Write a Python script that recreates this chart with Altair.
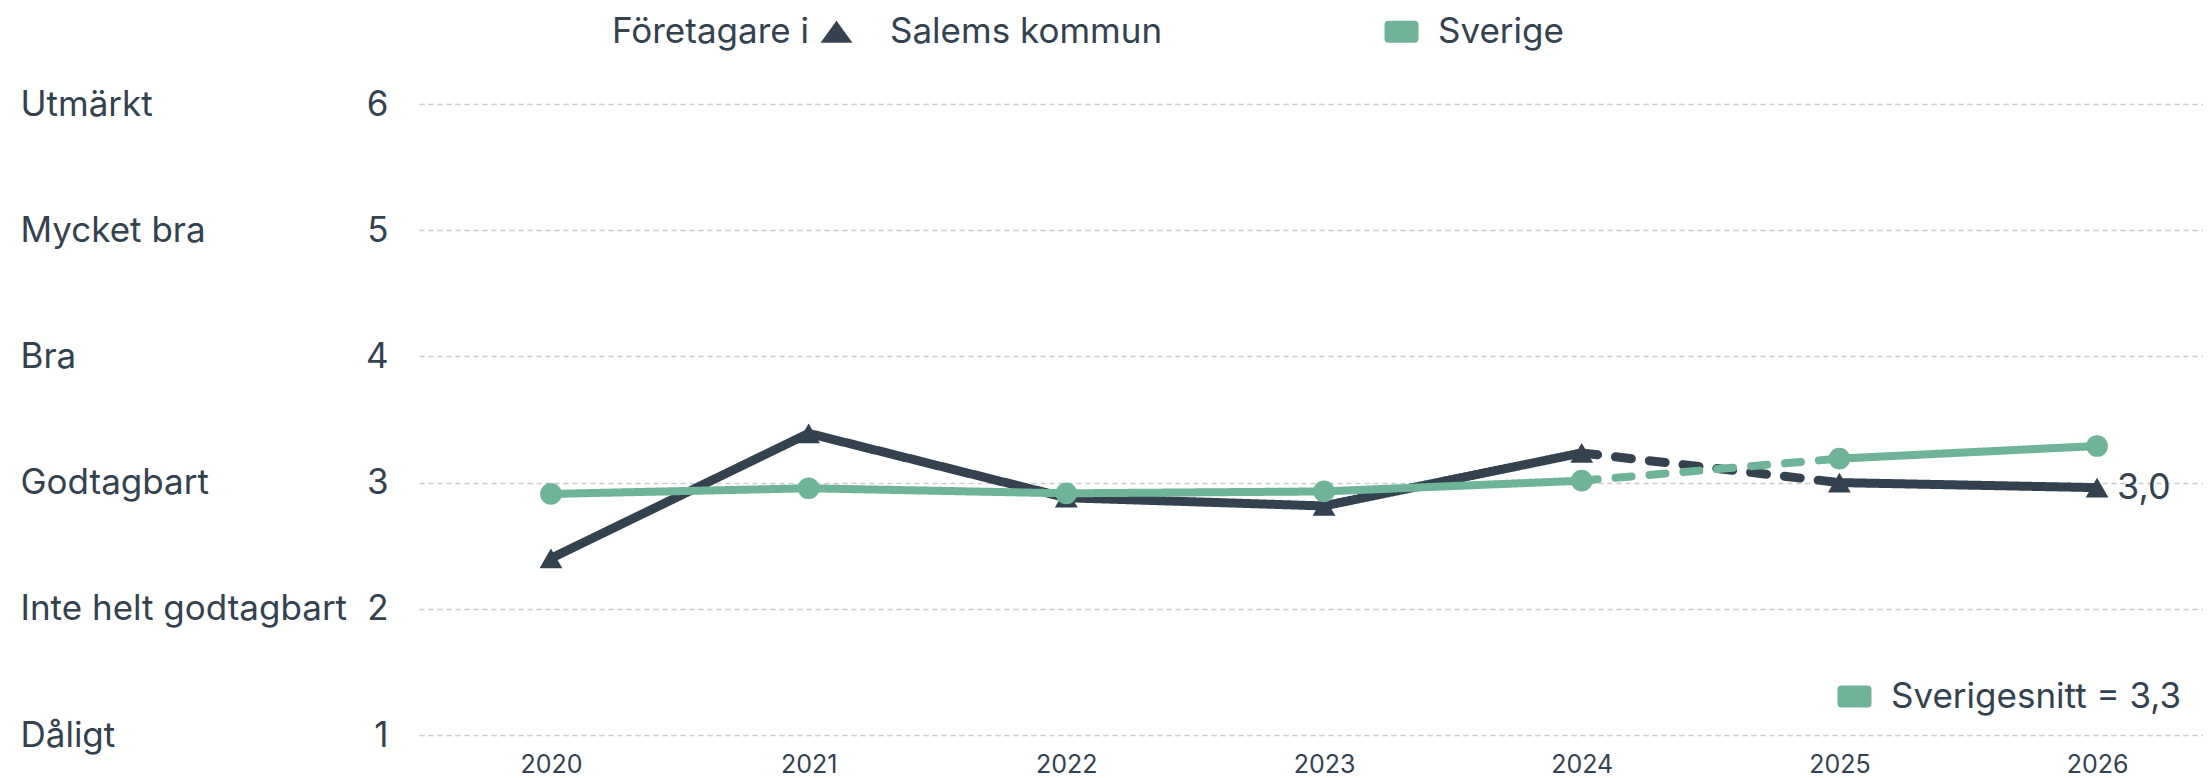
import json
import altair as alt
import pandas as pd

# ---------------- data ----------------
years = [2020, 2021, 2022, 2023, 2024, 2025, 2026]
salem = [2.40, 3.39, 2.88, 2.815, 3.235, 3.00, 2.96]
sverige = [2.91, 2.955, 2.915, 2.93, 3.015, 3.19, 3.29]
series_names = ["Salems kommun", "Sverige"]
scale_values = [1, 2, 3, 4, 5, 6]
scale_labels = ["Dåligt", "Inte helt godtagbart", "Godtagbart", "Bra", "Mycket bra", "Utmärkt"]
legend_title = "Företagare i"
avg_label = "Sverigesnitt = 3,3"
# line segments: (id, from year, to year, style)
segments = [("a", 2020, 2024, "solid"), ("b", 2024, 2025, "dashed"), ("c", 2025, 2026, "solid")]

# ---------------- styles ----------------
DARK = "#344250"
GREEN = "#6fb498"
GRID = "#cccccc"
FONT = "Inter"
FS = 35

rows = []
for name, vals in zip(series_names, [salem, sverige]):
    for seg, y0, y1, style in segments:
        for yr, v in zip(years, vals):
            if y0 <= yr <= y1:
                rows.append(dict(year=yr, value=v, series=name, seg=name + seg, style=style))
line_df = pd.DataFrame(rows)
pts_df = pd.DataFrame([dict(year=yr, value=v, series=name)
                       for name, vals in zip(series_names, [salem, sverige])
                       for yr, v in zip(years, vals)])

xscale = alt.Scale(domain=[2019.488, 2026.411], nice=False, zero=False)
yscale = alt.Scale(domain=[1, 6], nice=False, zero=False)
color_scale = alt.Scale(domain=series_names, range=[DARK, GREEN])
dash_scale = alt.Scale(domain=["solid", "dashed"], range=[[1, 0], [16, 18]])

xaxis = alt.Axis(values=years, format="d", title=None, grid=False, domain=False, ticks=False,
                 labelFontSize=25, labelColor=DARK, labelFont=FONT, labelPadding=37,
                 labelBaseline="alphabetic", labelFlush=False)
num_axis = alt.Axis(orient="left", values=scale_values, format="d", title=None, domain=False,
                    ticks=False, grid=True, gridColor=GRID, gridDash=[5, 4], gridWidth=1.3,
                    labelFontSize=FS, labelColor=DARK, labelFont=FONT, labelPadding=31,
                    labelAlign="right", labelBaseline="middle")
names_expr = json.dumps(scale_labels, ensure_ascii=False) + "[datum.value - 1]"
name_axis = alt.Axis(orient="left", values=scale_values, title=None, domain=False, ticks=False,
                     grid=False, labelFontSize=FS, labelColor=DARK, labelFont=FONT,
                     labelPadding=399, labelAlign="left", labelBaseline="middle",
                     labelExpr=names_expr, labelLimit=1000)

X = alt.X("year:Q", scale=xscale, axis=xaxis)


def line_layer(name, color, width, axis):
    return alt.Chart(line_df).transform_filter(alt.datum.series == name).mark_line(
        strokeCap="round", strokeJoin="round", color=color, strokeWidth=width
    ).encode(
        x=X,
        y=alt.Y("value:Q", scale=yscale, axis=axis),
        detail="seg:N",
        strokeDash=alt.StrokeDash("style:N", scale=dash_scale, legend=None),
    )


line_dark = line_layer(series_names[0], DARK, 9, num_axis)
line_green = line_layer(series_names[1], GREEN, 8, None)

tri = alt.Chart(pts_df).transform_filter(
    alt.datum.series == series_names[0]
).mark_point(shape="triangle-up", filled=True, size=520, opacity=1, color=DARK).encode(
    x=X, y=alt.Y("value:Q", scale=yscale, axis=None)
)

circ = alt.Chart(pts_df).transform_filter(
    alt.datum.series == series_names[1]
).mark_circle(size=470, opacity=1, color=GREEN).encode(
    x=X, y=alt.Y("value:Q", scale=yscale, axis=name_axis)
)

txt = alt.Chart(pts_df).transform_filter(
    (alt.datum.series == series_names[0]) & (alt.datum.year == years[-1])
).transform_calculate(
    label="replace(format(datum.value, '.1f'), '.', ',')"
).mark_text(align="left", baseline="middle", dx=20, fontSize=36, font=FONT, color=DARK).encode(
    x=X, y=alt.Y("value:Q", scale=yscale, axis=None), text="label:N"
)

tri_path = "M-1.0,-0.65L-0.06,0.65L-1.94,0.65Z"
rect_path = ("M-0.76,-0.65L0.76,-0.65Q1,-0.65 1,-0.41L1,0.41Q1,0.65 0.76,0.65"
             "L-0.76,0.65Q-1,0.65 -1,0.41L-1,-0.41Q-1,-0.65 -0.76,-0.65Z")

top_legend = alt.Legend(
    title=legend_title, titleOrient="left", orient="none", legendX=193, legendY=-90,
    direction="horizontal", titleFontSize=FS, titleFont=FONT, titleFontWeight="normal",
    titleColor=DARK, titlePadding=27, titleLimit=1000, titleAnchor="middle",
    titleBaseline="middle",
    labelFontSize=FS, labelFont=FONT, labelColor=DARK, labelOffset=19, labelLimit=1000,
    symbolSize=1156, symbolOpacity=1, symbolStrokeWidth=0, columnPadding=221, padding=0,
)
leg_top = alt.Chart(pd.DataFrame({"series": series_names})).mark_point(
    filled=True, opacity=0
).encode(
    color=alt.Color("series:N", scale=color_scale, legend=top_legend),
    shape=alt.Shape("series:N", scale=alt.Scale(domain=series_names, range=[tri_path, rect_path]),
                    legend=top_legend),
)

leg_bottom = alt.Chart(pd.DataFrame({"snitt": [avg_label]})).mark_point(
    filled=True, opacity=0
).encode(
    fill=alt.Fill("snitt:N", scale=alt.Scale(domain=[avg_label], range=[GREEN]),
                  legend=alt.Legend(title=None, orient="none", legendX=1418, legendY=575,
                                    symbolType=rect_path, symbolSize=1156, symbolOpacity=1,
                                    symbolStrokeWidth=0, labelFontSize=FS, labelFont=FONT,
                                    labelColor=DARK, labelOffset=19, labelLimit=1000, padding=0))
)

chart = alt.layer(line_dark, line_green, tri, circ, txt, leg_top, leg_bottom).resolve_axis(
    y="independent"
).properties(
    width=1784, height=631,
    autosize=alt.AutoSizeParams(type="none"),
    padding={"left": 411, "top": 96, "right": 0, "bottom": 43},
).configure(font=FONT).configure_view(stroke=None)

chart.save("out.html", embed_options={"renderer": "svg", "actions": False})
